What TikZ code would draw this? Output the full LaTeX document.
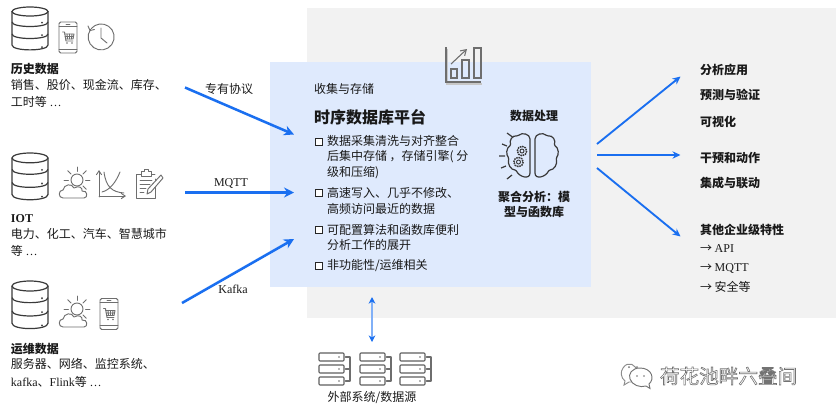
\documentclass[tikz,border=0pt]{standalone}
\usepackage{fontspec}
\setmainfont{Noto Sans CJK SC}
\newfontfamily\latf{Liberation Serif}
\newcommand{\ltn}[1]{{\latf #1}}
\usetikzlibrary{arrows.meta}
\definecolor{arrowblue}{HTML}{1A6FF0}
\definecolor{panelblue}{HTML}{DFEAFD}
\definecolor{panelgray}{HTML}{F2F2F2}
\definecolor{icongray}{HTML}{6E6E6E}
\definecolor{darkicon}{HTML}{3A3A3A}
\tikzset{
  base/.style={inner sep=0pt,outer sep=0pt,text=black!90,font=\fontsize{9}{12}\selectfont,align=left},
  leftblock/.style={base,anchor=west},
  centerblock/.style={base,anchor=center,align=center},
  strongtext/.style={base,anchor=west,font=\fontsize{9}{12}\selectfont\bfseries},
  chk/.style={draw=black!85,line width=.8,inner sep=0pt,minimum size=5.5,rectangle,fill=white},
  bigarrow/.style={draw=arrowblue,line width=1.9,-{Stealth[length=7.5,width=7.5]}},
  outarrow/.style={draw=arrowblue,line width=1.4,-{Stealth[length=6,width=5.5]}},
  ico/.style={draw=icongray,line width=0.7,line cap=round,line join=round},
  pics/dbicon/.style={code={
    \draw[draw=darkicon,line width=.9,fill=white] (18,4.5) ellipse [x radius=18,y radius=4.5];
    \draw[draw=darkicon,line width=.9] (0,4.5) -- (0,38) .. controls (0,44.5) and (36,44.5) .. (36,38) -- (36,4.5);
    \draw[draw=darkicon,line width=.9] (0,15) .. controls (0,21) and (36,21) .. (36,15);
    \draw[draw=darkicon,line width=.9] (0,27) .. controls (0,33) and (36,33) .. (36,27);
    \fill[darkicon] (30,15.5) circle (1) (30,28) circle (1) (30,40) circle (1);
  }},
  pics/phoneicon/.style={code={
    \draw[ico,rounded corners=1.2] (0,0) rectangle (18,31);
    \draw[ico] (0,4) -- (18,4) (0,27) -- (18,27) (7,2) -- (11,2);
    \draw[ico] (3.5,10) -- (5.5,10) -- (7,19) -- (14,19);
    \draw[ico] (5.5,12) -- (15,12) -- (14,17) -- (6.7,17);
    \draw[ico] (8,12) -- (8.5,17) (10.5,12) -- (10.5,17) (13,12) -- (12.5,17) (6,14.5) -- (14.5,14.5);
    \fill[icongray] (8,21) circle (.9) (13,21) circle (.9);
  }},
  pics/sunicon/.style={code={
    \draw[ico] (18,10) circle (6);
    \foreach \a in {-45,-90,-135,180,135,90,45,0}{\draw[ico] (18,10) ++(\a:8.5) -- ++(\a:4.5);}
    \draw[ico,fill=#1] (4,28) .. controls (-1,28) and (-1,20) .. (4,20) .. controls (5,14) and (13,13) .. (15,18) .. controls (20,15) and (24,18) .. (23,21) .. controls (29,20) and (29,28) .. (25,28) -- cycle;
  }},
  pics/servericon/.style={code={
    \foreach \y in {0,12,24}{
      \draw[ico,draw=icongray!85!black,line width=.8,rounded corners=.7] (0,\y) rectangle (25,\y+8);
      \fill[icongray] (20,\y+4) circle (.9);
    }
    \draw[ico,line width=.8] (26.5,4) -- (31,4) -- (31,28) -- (26.5,28) (26.5,16) -- (31,16);
  }},
  pics/hemi/.style={code={
    \draw[draw=darkicon,line width=.9,line join=round,rounded corners=.8]
      (0,7) .. controls (0,1) and (8,-1) .. (12,3)
      .. controls (18,2) and (21,8) .. (19,12)
      .. controls (24,15) and (24,22) .. (21,25)
      .. controls (23,31) and (19,37) .. (14,37)
      .. controls (11,44) and (0,47) .. (0,39) -- cycle;
  }},
}
\begin{document}
\begin{tikzpicture}[x=0.75pt,y=-0.75pt]
\useasboundingbox (0,0) rectangle (836,412);
\fill[panelgray] (306.5,8) rectangle (836,318);
\fill[panelblue] (270,62) rectangle (591,287);

% left icons
\pic at (12,7) {dbicon};
\pic[yscale=1.09] at (12,153) {dbicon};
\pic[yscale=1.11] at (12,281) {dbicon};
\pic at (59,22) {phoneicon};
\pic at (100,298.5) {phoneicon};
\pic at (59,170) {sunicon=white};
\pic at (59,299) {sunicon=white};
% clock
\draw[ico] (90.5,29.5) arc[start angle=215,end angle=-140,radius=13];
\draw[ico] (88,26) -- (90,30.5) -- (94.5,29.5);
\draw[ico] (101,28) -- (101,38) -- (107,43);
% chart icon
\draw[ico,-{Straight Barb[length=3,width=4]}] (99,197) -- (99,170);
\draw[ico,-{Straight Barb[length=3,width=4]}] (99,196) -- (126,196);
\draw[ico] (104,172) .. controls (106,187) and (112,192) .. (124,193);
\draw[ico] (102,192) .. controls (110,190) and (116,182) .. (120,172);
% clipboard
\draw[ico] (155,179) -- (155,198) -- (136,198) -- (136,174) -- (142,174);
\draw[ico] (150,174) -- (155,174);
\draw[ico,fill=white] (141,176) -- (141,171.5) -- (144,171.5) -- (144,169) -- (148,169) -- (148,171.5) -- (151,171.5) -- (151,176) -- cycle;
\draw[ico] (140,180) -- (152,180) (140,184) -- (150,184) (140,188) -- (146,188) (140,192) -- (144,192);
\draw[ico,fill=white] (161,175) -- (163,178) -- (151,192) -- (147,194) -- (148,189) -- cycle;

% left text
\node[strongtext] (hist) at (11,69) {历史数据};
\node[leftblock] (histtxt) at (11,93.5) {销售、股价、现金流、库存、\\[1pt]工时等 \ltn{…}};
\node[strongtext] (iot) at (11,219) {\latf IOT};
\node[leftblock] (iottxt) at (11,242.5) {电力、化工、汽车、智慧城市\\[1pt]等 \ltn{…}};
\node[strongtext] (ops) at (11,349) {运维数据};
\node[leftblock] (opstxt) at (11,373) {服务器、网络、监控系统、\\[1pt]\ltn{kafka}、\ltn{Flink}等 \ltn{…}};

% connector labels
\node[centerblock] (l1) at (229,89) {专有协议};
\node[centerblock] (l2) at (231,183) {\ltn{MQTT}};
\node[centerblock] (l3) at (233,289) {\ltn{Kafka}};

% input arrows
\coordinate (a1s) at (185,87.5);
\coordinate (a1e) at (294,134.5);
\coordinate (a2s) at (185,192.5);
\coordinate (a2e) at (294,192.5);
\coordinate (a3s) at (182,303);
\coordinate (a3e) at (294,239);
\draw[bigarrow] (a1s) -- (a1e);
\draw[bigarrow] (a2s) -- (a2e);
\draw[bigarrow] (a3s) -- (a3e);

% top chart icon
\begin{scope}[shift={(446,47)}]
  \draw[draw=black!22,line width=1.1] (1,1.5) -- (1,37) -- (36,37);
  \draw[draw=icongray,line width=.9,line join=miter] (0,0) -- (0,35) -- (35,35);
  \draw[draw=icongray,line width=.9] (5,22) rectangle (11,31) (16,13) rectangle (23,31) (28,1) rectangle (35,31);
  \draw[draw=icongray,line width=.8,-{Straight Barb[length=4,width=5]}] (5,17) -- (21,2);
\end{scope}

% centre text
\node[leftblock] (collect) at (314,89) {收集与存储};
\node[strongtext,font=\fontsize{12}{14}\selectfont\bfseries] (title) at (314,117) {时序数据库平台};
\node[chk] (c1) at (319,142) {};
\node[leftblock,font=\fontsize{9}{11.4}\selectfont] (b1) at (327,157) {数据采集清洗与对齐整合\\后集中存储 ，存储引擎( 分\\级和压缩)};
\node[chk] (c2) at (319,193) {};
\node[leftblock,font=\fontsize{9}{12}\selectfont] (b2) at (327,201) {高速写入、几乎不修改、\\高频访问最近的数据};
\node[chk] (c3) at (319,230) {};
\node[leftblock,font=\fontsize{9}{11.4}\selectfont] (b3) at (327,237.5) {可配置算法和函数库便利\\分析工作的展开};
\node[chk] (c4) at (319,266) {};
\node[leftblock] (b4) at (327,266) {非功能性/运维相关};

\node[centerblock,font=\fontsize{9}{12}\selectfont\bfseries] (proc) at (534,116) {数据处理};
\node[centerblock,font=\fontsize{9}{11.4}\selectfont\bfseries] (agg) at (534,204.5) {聚合分析：模\\型与函数库};

% brain
\pic[xscale=1] at (535,133) {hemi};
\pic[xscale=-1] at (530,133) {hemi};
\begin{scope}[draw=darkicon]
  \draw[draw=darkicon,line width=.9] (507,133) -- (512.5,137) (502,144) -- (507,146) (499,156) -- (505,156) (501,168) -- (506,166) (507,179) -- (512,175);
  \draw[draw=darkicon,line width=1.1,dash pattern=on 1.2 off .6] (522,151) circle (4.7);
  \draw[draw=darkicon,line width=.7] (522,151) circle (2);
  \draw[draw=darkicon,line width=1.1,dash pattern=on 1.2 off .6] (518.5,162) circle (4.7);
  \draw[draw=darkicon,line width=.7] (518.5,162) circle (2);
\end{scope}

% output arrows
\coordinate (o1s) at (597,144);
\coordinate (o1e) at (680.5,76.5);
\coordinate (o2s) at (597,155);
\coordinate (o2e) at (680.5,155);
\coordinate (o3s) at (597,168);
\coordinate (o3e) at (680.5,236.5);
\draw[outarrow] (o1s) -- (o1e);
\draw[outarrow] (o2s) -- (o2e);
\draw[outarrow] (o3s) -- (o3e);

% right text
\node[strongtext] (r1) at (700,70) {分析应用};
\node[strongtext] (r2) at (700,95) {预测与验证};
\node[strongtext] (r3) at (700,122) {可视化};
\node[strongtext] (r4) at (700,158) {干预和动作};
\node[strongtext] (r5) at (700,183) {集成与联动};
\node[strongtext] (r6) at (700,230) {其他企业级特性};
\node[leftblock] (r7) at (700,249) {→ \ltn{API}};
\node[leftblock] (r8) at (700,268) {→ \ltn{MQTT}};
\node[leftblock] (r9) at (700,287) {→ 安全等};

% external systems
\coordinate (e1) at (372,297);
\coordinate (e2) at (372,342);
\draw[draw=arrowblue!55,line width=.8,{Stealth[length=5,width=5,color=arrowblue]}-{Stealth[length=5,width=5,color=arrowblue]}] (e1) -- (e2);
\pic at (319,353) {servericon};
\pic at (360,353) {servericon};
\pic at (400,353) {servericon};
\node[centerblock] (ext) at (372,398) {外部系统/数据源};

% watermark
\draw[draw=black!45,line width=.7,fill=white] (637,372) .. controls (637,365) and (628,360) .. (623,368) .. controls (620,372) and (621,378) .. (625,381) -- (624,385) -- (629,382) -- (633,382);
\draw[draw=black!55,line width=.7,fill=white] (640,368) .. controls (632,368) and (628,374) .. (630,379) .. controls (632,385) and (640,388) .. (646,386) -- (650,388.5) -- (649,384) .. controls (655,379) and (652,368) .. (640,368) -- cycle;
\fill[black!55] (629,367) circle (1) (637,367) circle (1) (637,376) circle (.9) (644,376) circle (.9);
\node[base,anchor=west,font=\fontsize{14.7}{16}\selectfont] (mark) at (660,376) {\special{pdf:code 1 Tr 0.45 w 0.45 G}荷花池畔六叠间\special{pdf:code 0 Tr 0 G}};
\end{tikzpicture}
\end{document}
